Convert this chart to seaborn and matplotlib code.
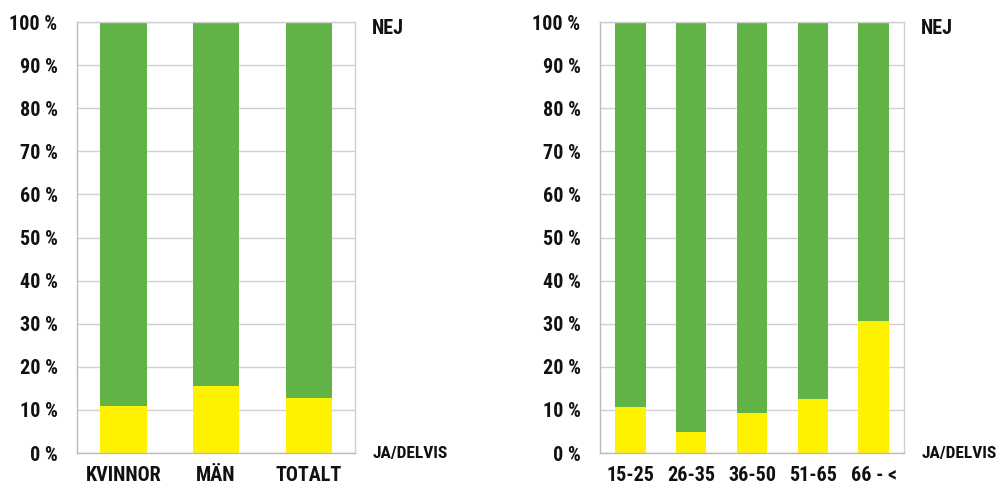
import matplotlib
matplotlib.use('Agg')
import matplotlib.pyplot as plt
import seaborn as sns
import pandas as pd

# Andel JA/DELVIS per grupp (procent), resten är NEJ
kon_kategorier = ['KVINNOR', 'MÄN', 'TOTALT']
kon_ja = [10.9, 15.6, 12.7]

alder_kategorier = ['15-25', '26-35', '36-50', '51-65', '66 - <']
alder_ja = [10.7, 4.8, 9.4, 12.5, 30.6]

gron = '#62B346'
gul = '#FFF200'
grid_farg = '#D0D0D0'

sns.set_style('white')
plt.rcParams['font.family'] = ['Roboto Condensed', 'Liberation Sans Narrow', 'DejaVu Sans']
plt.rcParams['font.weight'] = 'bold'

fig = plt.figure(figsize=(9.98, 4.84), dpi=100)
ax1 = fig.add_axes([0.0772, 0.064, 0.2785, 0.8905])
ax2 = fig.add_axes([0.6012, 0.064, 0.3046, 0.8905])


def rita(ax, kategorier, ja):
    df = pd.DataFrame({'kat': kategorier, 'ja': ja, 'total': [100] * len(ja)})
    ax.set_axisbelow(True)
    sns.barplot(data=df, x='kat', y='total', color=gron, width=0.5,
                saturation=1, linewidth=0, ax=ax)
    sns.barplot(data=df, x='kat', y='ja', color=gul, width=0.5,
                saturation=1, linewidth=0, ax=ax)
    ax.set_ylim(0, 100)
    ax.set_yticks(range(0, 101, 10))
    ax.set_yticklabels([f'{v} %' for v in range(0, 101, 10)])
    ax.yaxis.grid(True, color=grid_farg, linewidth=1)
    for s in ax.spines.values():
        s.set_color(grid_farg)
        s.set_linewidth(1)
    ax.spines['left'].set_color('#BBBBBB')
    ax.spines['bottom'].set_color('#BBBBBB')
    ax.set_xlabel('')
    ax.set_ylabel('')
    ax.tick_params(axis='both', length=0, labelsize=14.5, colors='#111111')
    ax.tick_params(axis='y', pad=14)
    ax.tick_params(axis='x', pad=9)
    for lab in ax.get_xticklabels() + ax.get_yticklabels():
        lab.set_fontweight('bold')
    ax.annotate('NEJ', xy=(1, 0.985), xycoords='axes fraction',
                xytext=(12.5, 0), textcoords='offset points', fontsize=14.5,
                fontweight='bold', va='center', ha='left', color='#111111')
    ax.annotate('JA/DELVIS', xy=(1, 0.0), xycoords='axes fraction',
                xytext=(12.5, 0), textcoords='offset points', fontsize=12.5,
                fontweight='bold', va='center', ha='left', color='#111111')


rita(ax1, kon_kategorier, kon_ja)
rita(ax2, alder_kategorier, alder_ja)

fig.savefig('out.png', dpi=100)
